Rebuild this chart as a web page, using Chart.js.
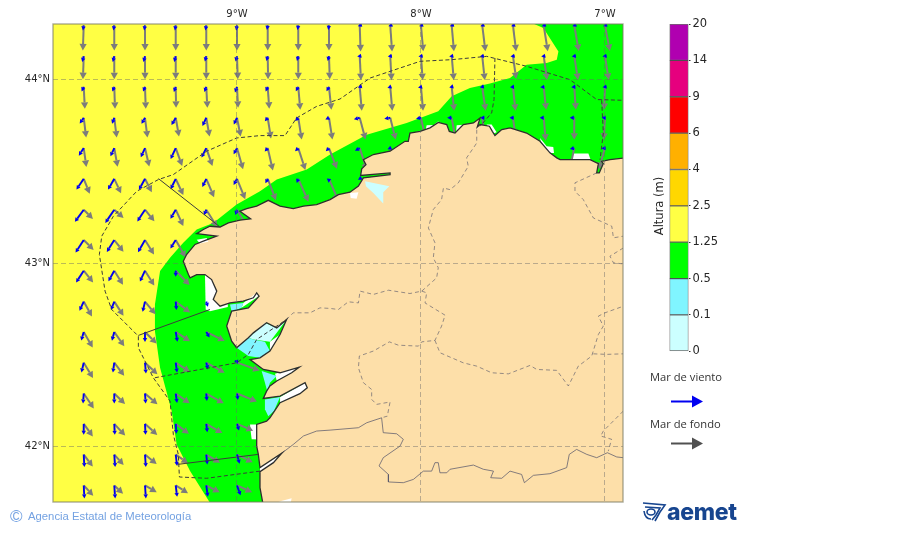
<!DOCTYPE html>
<html lang="es">
<head>
<meta charset="utf-8">
<title>Altura de ola</title>
<script src="https://cdn.jsdelivr.net/npm/chart.js@4/dist/chart.umd.min.js"></script>
<style>
  html, body { margin: 0; padding: 0; background: #fff; }
  #page { position: relative; width: 900px; height: 533px; overflow: hidden; }
  canvas { position: absolute; }
  .txt { position: absolute; white-space: nowrap; }
  .leg { font: 11.2px "Open Sans", sans-serif; color: #333; }
  #copy { left: 28px; top: 510px; font: 11.3px "Liberation Sans", sans-serif; color: #74a2e2; }
  #copyc { left: 10px; top: 507px; font: 17px "Liberation Sans", sans-serif; color: #74a2e2; }
  #aemet { left: 667px; top: 498px; font: 800 23px Inter, sans-serif; color: #17458f; letter-spacing: -0.3px; }
  svg { position: absolute; }
</style>
</head>
<body>
<div id="page">
  <canvas id="map" width="900" height="533" style="left:0;top:0"></canvas>
  <canvas id="bar" width="130" height="370" style="left:640px;top:0"></canvas>
  <div class="txt leg" style="left:650px;top:369px">Mar de viento</div>
  <div class="txt leg" style="left:650px;top:416px">Mar de fondo</div>
  <svg width="900" height="533" style="left:0;top:0">
    <line x1="671" y1="401.5" x2="694" y2="401.5" stroke="#0000f0" stroke-width="2"/>
    <polygon points="703,401.5 692,395.5 692,407.5" fill="#0000f0"/>
    <line x1="671" y1="443.5" x2="694" y2="443.5" stroke="#505050" stroke-width="2"/>
    <polygon points="703,443.5 692,437.5 692,449.5" fill="#505050"/>
    <g fill="none" stroke="#17458f" stroke-width="1.6">
      <path d="M643 503 L665 505 L660 512 L655 521"/>
      <path d="M645 507 L660 508 L656 515 L652 520"/>
      <ellipse cx="651" cy="512" rx="4" ry="3"/>
      <path d="M644 511 Q645 519 651 519"/>
    </g>
  </svg>
  <div class="txt" id="copyc">©</div>
  <div class="txt" id="copy">Agencia Estatal de Meteorología</div>
  <div class="txt" id="aemet">aemet</div>
</div>
<script>
// ejes
const LON_MIN = -10, LON_MAX = -6.902, LAT_MIN = 41.70, LAT_MAX = 44.30;
const lonTicks = [-9, -8, -7];
const lonLabels = ['9°W', '8°W', '7°W'];
const latTicks = [44, 43, 42];
const latLabels = ['44°N', '43°N', '42°N'];

// rejilla de flechas
const gridLons = [-9.833, -9.667, -9.5, -9.333, -9.167, -9, -8.833, -8.667, -8.5, -8.333, -8.167, -8, -7.833, -7.667, -7.5, -7.333, -7.167, -7];
const gridLats = [44.292, 44.125, 43.958, 43.79, 43.625, 43.458, 43.29, 43.125, 42.958, 42.79, 42.625, 42.458, 42.29, 42.125, 41.958, 41.79];

const _ = null;
// mar de fondo: direccion (grados) y altura (m)
const swellDir = [
  [182,180,180,180,180,180,180,180,180,178,176,175,175,173,173,171,170,169],
  [182,180,180,180,180,178,179,180,178,177,177,176,175,174,172,172,171,171],
  [177,178,178,179,177,177,176,175,174,175,175,175,174,172,174,174,176,182],
  [173,173,173,170,170,169,171,171,171,165,166,168,170,172,172,175,180,183],
  [172,170,167,160,161,164,167,162,159,162,165,_,_,_,_,_,192,196],
  [158,155,153,155,157,158,159,156,157,_,_,_,_,_,_,_,_,_],
  [135,132,141,155,148,150,_,_,_,_,_,_,_,_,_,_,_,_],
  [135,142,148,150,_,_,_,_,_,_,_,_,_,_,_,_,_,_],
  [141,148,148,136,_,_,_,_,_,_,_,_,_,_,_,_,_,_],
  [151,147,140,127,_,_,_,_,_,_,_,_,_,_,_,_,_,_],
  [150,145,135,123,116,_,_,_,_,_,_,_,_,_,_,_,_,_],
  [149,143,133,123,119,109,_,_,_,_,_,_,_,_,_,_,_,_],
  [146,134,131,125,119,112,_,_,_,_,_,_,_,_,_,_,_,_],
  [144,137,132,127,120,113,_,_,_,_,_,_,_,_,_,_,_,_],
  [143,138,129,125,121,116,_,_,_,_,_,_,_,_,_,_,_,_],
  [137,133,120,122,117,114,_,_,_,_,_,_,_,_,_,_,_,_],
];
const swellHgt = [
  [2.5,2.5,2.5,2.5,2.5,2.5,2.5,2.5,2.5,2.6,2.6,2.6,2.6,2.6,2.6,2.6,2.6,2.6],
  [2.3,2.3,2.3,2.3,2.3,2.3,2.3,2.3,2.3,2.4,2.4,2.4,2.4,2.4,2.3,2.4,2.4,2.4],
  [2.2,2.2,2.2,2.1,2.1,2.1,2.2,2.3,2.3,2.4,2.4,2.4,2.4,2.4,2.4,2.3,2.3,2.3],
  [2.0,2.0,2.0,1.9,1.9,1.9,2.1,2.2,2.2,2.25,2.25,2.3,2.3,2.3,2.3,2.3,2.2,2.2],
  [1.9,1.9,1.9,1.9,1.9,2.2,2.3,2.3,2.2,2.3,2.3,_,_,_,_,_,2.2,2.2],
  [1.6,1.6,1.5,1.8,2.0,2.2,2.3,2.5,2.4,_,_,_,_,_,_,_,_,_],
  [1.3,1.25,1.5,1.8,2.05,2.2,_,_,_,_,_,_,_,_,_,_,_,_],
  [1.4,1.5,1.7,2.0,_,_,_,_,_,_,_,_,_,_,_,_,_,_],
  [1.5,1.65,1.75,2.0,_,_,_,_,_,_,_,_,_,_,_,_,_,_],
  [1.7,1.7,1.65,1.8,_,_,_,_,_,_,_,_,_,_,_,_,_,_],
  [1.8,1.75,1.65,1.7,2.05,_,_,_,_,_,_,_,_,_,_,_,_,_],
  [1.8,1.65,1.7,1.7,2.1,2.4,_,_,_,_,_,_,_,_,_,_,_,_],
  [1.8,1.5,1.65,1.7,2.0,2.15,_,_,_,_,_,_,_,_,_,_,_,_],
  [1.55,1.6,1.65,1.65,1.85,1.75,_,_,_,_,_,_,_,_,_,_,_,_],
  [1.5,1.4,1.5,1.5,1.6,1.75,_,_,_,_,_,_,_,_,_,_,_,_],
  [1.4,1.2,1.35,1.45,1.5,1.65,_,_,_,_,_,_,_,_,_,_,_,_],
];
// mar de viento
const windDir = [
  [190,190,190,190,190,190,190,190,190,250,250,250,250,250,250,250,250,250],
  [195,195,195,195,195,195,195,195,195,260,260,260,260,260,260,260,260,260],
  [205,203,203,200,200,200,205,210,210,250,250,255,255,255,265,265,265,260],
  [215,200,210,210,205,205,220,225,245,255,260,260,270,270,270,270,270,270],
  [213,205,205,205,207,209,222,225,225,240,245,_,_,_,_,_,257,265],
  [214,210,209,206,206,209,208,200,185,240,_,_,_,_,_,_,_,_],
  [216,214,213,210,202,196,_,_,_,_,_,_,_,_,_,_,_,_],
  [213,212,210,212,_,_,_,_,_,_,_,_,_,_,_,_,_,_],
  [213,209,205,180,_,_,_,_,_,_,_,_,_,_,_,_,_,_],
  [205,201,193,175,163,_,_,_,_,_,_,_,_,_,_,_,_,_],
  [196,195,180,170,150,_,_,_,_,_,_,_,_,_,_,_,_,_],
  [193,188,175,172,166,160,_,_,_,_,_,_,_,_,_,_,_,_],
  [184,180,176,172,175,172,_,_,_,_,_,_,_,_,_,_,_,_],
  [180,177,177,176,173,163,_,_,_,_,_,_,_,_,_,_,_,_],
  [177,176,176,173,174,164,_,_,_,_,_,_,_,_,_,_,_,_],
  [177,176,176,173,172,160,_,_,_,_,_,_,_,_,_,_,_,_],
];
const windHgt = [
  [.5,.5,.5,.5,.5,.5,.45,.45,.45,.2,.2,.2,.2,.2,.2,.2,.2,.2],
  [.6,.6,.6,.6,.55,.55,.5,.5,.5,.25,.25,.25,.25,.25,.25,.25,.25,.25],
  [.5,.5,.5,.55,.55,.6,.5,.5,.5,.2,.3,.3,.25,.25,.3,.35,.3,.25],
  [.7,.65,.7,.85,.9,.75,.45,.45,.4,.6,.6,.5,.45,.2,.35,.4,.45,.35],
  [.9,.9,1.0,1.2,1.05,.7,.45,.45,.45,.55,.3,_,_,_,_,_,.45,.35],
  [1.3,1.25,1.25,1.15,.9,.7,.5,.45,.4,.2,_,_,_,_,_,_,_,_],
  [1.5,1.6,1.4,1.05,.6,.55,_,_,_,_,_,_,_,_,_,_,_,_],
  [1.5,1.4,1.4,1.0,_,_,_,_,_,_,_,_,_,_,_,_,_,_],
  [1.4,1.2,1.2,.6,_,_,_,_,_,_,_,_,_,_,_,_,_,_],
  [1.0,.9,1.05,.85,.55,_,_,_,_,_,_,_,_,_,_,_,_,_],
  [.9,.9,1.0,1.0,.65,_,_,_,_,_,_,_,_,_,_,_,_,_],
  [1.0,1.0,1.1,1.0,.7,.15,_,_,_,_,_,_,_,_,_,_,_,_],
  [1.0,1.0,1.0,.95,.75,.65,_,_,_,_,_,_,_,_,_,_,_,_],
  [1.1,1.1,1.1,1.0,.85,.7,_,_,_,_,_,_,_,_,_,_,_,_],
  [1.25,1.25,1.25,1.15,1.0,.95,_,_,_,_,_,_,_,_,_,_,_,_],
  [1.3,1.3,1.3,1.15,1.15,1.05,_,_,_,_,_,_,_,_,_,_,_,_],
];

// escala de colores
const barLabels = ['0', '0.1', '0.5', '1.25', '2.5', '4', '6', '9', '14', '20'];
const barColors = ['#ccffff', '#80f5ff', '#00ff00', '#ffff44', '#ffd700', '#ffb000', '#ff0000', '#e6007e', '#b000b0'];

// limite de la zona 1.25-2.5 m (verde al este), de N a S
const greenEdge = [[-7.389,44.302],[-7.335,44.278],[-7.253,44.151],[-7.262,44.106],[-7.317,44.088],[-7.426,44.079],[-7.516,44.006],[-7.625,43.976],[-7.734,43.952],[-7.833,43.907],[-7.906,43.825],[-8.078,43.762],[-8.295,43.698],[-8.494,43.590],[-8.621,43.508],[-8.784,43.454],[-8.875,43.390],[-9.002,43.318],[-9.129,43.218],[-9.219,43.182],[-9.292,43.110],[-9.364,43.028],[-9.418,42.956],[-9.446,42.774],[-9.446,42.629],[-9.418,42.430],[-9.355,42.195],[-9.328,42.013],[-9.255,41.868],[-9.147,41.696],[-6.9,41.696],[-6.9,44.302]];

// costa, de E a O y luego al S
const coast = [[-6.900,43.571],[-6.973,43.562],[-7.018,43.553],[-7.009,43.541],[-7.031,43.490],[-7.045,43.490],[-7.036,43.541],[-7.081,43.562],[-7.172,43.562],[-7.244,43.562],[-7.262,43.572],[-7.299,43.599],[-7.353,43.662],[-7.426,43.707],[-7.516,43.735],[-7.561,43.726],[-7.598,43.693],[-7.612,43.716],[-7.628,43.744],[-7.679,43.753],[-7.694,43.740],[-7.679,43.789],[-7.715,43.762],[-7.770,43.753],[-7.815,43.707],[-7.846,43.716],[-7.860,43.753],[-7.906,43.765],[-7.951,43.735],[-8.005,43.716],[-8.060,43.707],[-8.069,43.662],[-8.087,43.662],[-8.168,43.608],[-8.259,43.590],[-8.313,43.562],[-8.299,43.535],[-8.322,43.512],[-8.328,43.476],[-8.168,43.490],[-8.168,43.481],[-8.313,43.463],[-8.340,43.418],[-8.386,43.385],[-8.449,43.372],[-8.494,43.345],[-8.567,43.318],[-8.639,43.309],[-8.694,43.296],[-8.766,43.309],[-8.830,43.341],[-8.893,43.309],[-8.947,43.296],[-8.984,43.282],[-8.926,43.240],[-8.984,43.233],[-9.047,43.218],[-9.092,43.196],[-9.147,43.200],[-9.183,43.182],[-9.219,43.160],[-9.110,43.146],[-9.183,43.119],[-9.228,43.101],[-9.274,43.046],[-9.292,43.010],[-9.264,42.937],[-9.255,42.919],[-9.219,42.937],[-9.174,42.937],[-9.138,42.910],[-9.110,42.847],[-9.129,42.802],[-9.092,42.765],[-9.038,42.783],[-8.966,42.793],[-8.911,42.811],[-8.893,42.838],[-8.880,42.820],[-8.938,42.756],[-9.029,42.738],[-9.056,42.657],[-9.029,42.575],[-9.002,42.539],[-8.938,42.593],[-8.911,42.620],[-8.839,42.675],[-8.784,42.647],[-8.730,42.693],[-8.766,42.611],[-8.821,42.521],[-8.875,42.484],[-8.929,42.475],[-8.857,42.421],[-8.766,42.403],[-8.661,42.434],[-8.703,42.403],[-8.784,42.358],[-8.821,42.331],[-8.839,42.303],[-8.857,42.263],[-8.766,42.276],[-8.630,42.349],[-8.618,42.321],[-8.658,42.289],[-8.766,42.240],[-8.802,42.186],[-8.821,42.158],[-8.839,42.140],[-8.893,42.122],[-8.893,42.004],[-8.884,41.959],[-8.875,41.887],[-8.757,41.965],[-8.802,41.914],[-8.875,41.865],[-8.875,41.778],[-8.860,41.696]];
const landCorners = [[-6.9,41.696],[-6.9,43.571]];

// manchas sin dato bajo la costa
const white1 = [[-9.174,42.937],[-9.05,42.90],[-9.05,42.76],[-9.147,42.738],[-9.170,42.747]];
const white2 = [[-8.929,42.122],[-8.85,42.122],[-8.85,42.04],[-8.920,42.041],[-8.926,42.086]];
const white3 = [[-7.969,43.749],[-7.93,43.75],[-7.906,43.771],[-7.88,43.72],[-7.98,43.70]];
const white4 = [[-7.806,43.749],[-7.752,43.753],[-7.75,43.70],[-7.81,43.70]];
const white5 = [[-7.643,43.753],[-7.616,43.753],[-7.589,43.711],[-7.625,43.698]];
const white6 = [[-7.353,43.680],[-7.317,43.635],[-7.281,43.631],[-7.277,43.599],[-7.335,43.599]];
const white7 = [[-7.172,43.595],[-7.090,43.595],[-7.078,43.562],[-7.09,43.53],[-7.18,43.53]];
const whiteMino = [[-8.875,41.887],[-8.757,41.965],[-8.802,41.914],[-8.875,41.865]];
const whiteUnder = [white1, white2, white3, white4, white5, white6, white7, whiteMino];

// rias, encima de la tierra
const whiteCedeira = [[-8.386,43.381],[-8.340,43.385],[-8.350,43.349],[-8.382,43.354]];
const whiteCorme = [[-9.219,43.127],[-9.165,43.136],[-9.156,43.115],[-9.201,43.106]];
const whiteSouth = [[-8.775,41.702],[-8.703,41.720],[-8.708,41.696]];
const whiteMuros = [[-8.966,42.783],[-8.893,42.838],[-8.880,42.820],[-8.975,42.756]];
const whitePontevedra = [[-8.793,42.398],[-8.661,42.434],[-8.703,42.403],[-8.784,42.358]];
const whiteVigo = [[-8.766,42.271],[-8.630,42.349],[-8.618,42.321],[-8.658,42.289],[-8.766,42.240]];
const whiteArousa = [[-8.821,42.571],[-8.766,42.611],[-8.821,42.521]];
const riaAres = [[-8.304,43.445],[-8.172,43.418],[-8.205,43.385],[-8.205,43.323],[-8.259,43.381],[-8.299,43.418]];
const riaArousaPale = [[-8.938,42.593],[-8.847,42.675],[-8.784,42.647],[-8.733,42.689],[-8.821,42.571],[-8.911,42.584]];
const riaMuros = [[-9.038,42.774],[-8.966,42.783],[-8.975,42.756],[-9.029,42.735]];
const riaArousa = [[-9.002,42.539],[-8.938,42.593],[-8.911,42.584],[-8.848,42.571],[-8.821,42.521],[-8.875,42.484],[-8.938,42.494]];
const riaPontevedra = [[-8.866,42.412],[-8.784,42.385],[-8.821,42.349],[-8.835,42.300],[-8.848,42.349]];
const riaVigo = [[-8.848,42.258],[-8.766,42.271],[-8.799,42.195],[-8.830,42.167],[-8.848,42.204]];

// limites de provincias
const provA = [[-7.697,43.725],[-7.697,43.653],[-7.715,43.626],[-7.752,43.572],[-7.743,43.526],[-7.797,43.436],[-7.842,43.399],[-7.878,43.408],[-7.888,43.345],[-7.933,43.291],[-7.960,43.191],[-7.924,43.110],[-7.933,43.028],[-7.906,42.974],[-7.915,42.919],[-7.996,42.847],[-8.060,42.834],[-8.177,42.852],[-8.259,42.829],[-8.331,42.847],[-8.340,42.783],[-8.395,42.789],[-8.449,42.747],[-8.494,42.753],[-8.549,42.756],[-8.603,42.729],[-8.694,42.729],[-8.730,42.693]];
const provB = [[-7.996,42.847],[-7.969,42.838],[-7.978,42.783],[-7.869,42.716],[-7.888,42.657],[-7.924,42.579],[-7.996,42.571],[-8.014,42.548],[-8.123,42.553],[-8.172,42.571],[-8.259,42.521],[-8.335,42.494],[-8.340,42.430],[-8.313,42.349],[-8.268,42.312],[-8.268,42.258],[-8.241,42.231],[-8.168,42.244],[-8.183,42.167],[-8.214,42.158]];
const provC = [[-7.924,42.579],[-7.897,42.512],[-7.770,42.457],[-7.697,42.439],[-7.616,42.403],[-7.525,42.397],[-7.407,42.443],[-7.371,42.421],[-7.262,42.416],[-7.199,42.331],[-7.145,42.439],[-7.072,42.494],[-7.036,42.611],[-7.009,42.657],[-7.036,42.711],[-7.000,42.729],[-6.900,42.765]];
const provD = [[-7.063,42.506],[-6.991,42.503],[-6.900,42.506]];
const provE = [[-6.900,42.195],[-7.009,42.086],[-7.023,42.059],[-6.964,42.041],[-6.982,41.977]];
const provF = [[-7.045,43.490],[-7.163,43.436],[-7.163,43.390],[-7.118,43.345],[-7.063,43.245],[-6.963,43.200],[-6.954,43.137],[-6.900,43.146]];
const provG = [[-6.900,43.082],[-6.973,43.037],[-6.954,43.001],[-6.900,42.995]];
// frontera con Portugal
const border = [[-8.757,41.965],[-8.694,42.013],[-8.639,42.059],[-8.567,42.086],[-8.494,42.091],[-8.340,42.104],[-8.295,42.131],[-8.214,42.158],[-8.205,42.077],[-8.132,42.071],[-8.096,42.041],[-8.114,42.004],[-8.205,41.941],[-8.228,41.896],[-8.177,41.850],[-8.177,41.809],[-8.096,41.805],[-8.041,41.823],[-7.987,41.868],[-7.942,41.868],[-7.924,41.914],[-7.906,41.914],[-7.897,41.859],[-7.860,41.859],[-7.842,41.878],[-7.715,41.901],[-7.661,41.878],[-7.606,41.868],[-7.621,41.832],[-7.561,41.829],[-7.516,41.868],[-7.453,41.850],[-7.438,41.805],[-7.389,41.845],[-7.299,41.854],[-7.208,41.887],[-7.194,41.959],[-7.154,41.986],[-7.099,41.959],[-7.045,41.941],[-6.987,41.968],[-6.936,41.945],[-6.900,41.941]];

// zonas maritimas
const zoneOuter = [[-8.875,41.868],[-9.165,41.829],[-9.313,41.836],[-9.319,41.959],[-9.346,42.068],[-9.364,42.249],[-9.455,42.376],[-9.536,42.539],[-9.536,42.602],[-9.681,42.747],[-9.717,42.847],[-9.748,43.046],[-9.735,43.146],[-9.672,43.254],[-9.545,43.390],[-9.427,43.454],[-9.346,43.481],[-9.165,43.608],[-9.002,43.680],[-8.875,43.693],[-8.739,43.693],[-8.676,43.789],[-8.567,43.852],[-8.440,43.892],[-8.277,44.006],[-8.005,44.097],[-7.833,44.106],[-7.643,44.124],[-7.426,44.070],[-7.190,43.997],[-7.045,43.889],[-6.900,43.885]];
const zoneBares = [[-7.598,44.115],[-7.603,43.889],[-7.616,43.816],[-7.679,43.744]];
const zoneEo = [[-7.018,43.885],[-7.009,43.707],[-7.027,43.562]];
const zoneArousa = [[-9.446,42.376],[-9.002,42.457],[-8.938,42.503],[-8.893,42.584],[-8.730,42.693]];
const lineFisterra = [[-9.427,43.459],[-9.092,43.196]];
const lineMuros = [[-9.536,42.606],[-9.147,42.747]];
const lineVigo = [[-9.319,41.905],[-8.884,41.959]];

const toXY = (pts) => pts.map((p) => ({ x: p[0], y: p[1] }));

function area(pts, color) {
    return { data: toXY(pts), polyFill: color, showLine: false, pointRadius: 0 };
}

function line(pts, color, width, dash) {
    return { data: toXY(pts), showLine: true, borderColor: color, borderWidth: width, borderDash: dash || [], pointRadius: 0, tension: 0, fill: false };
}

function arrows(dirs, hgts, style) {
    const data = [];
    gridLats.forEach((lat, r) => {
        gridLons.forEach((lon, c) => {
            if (dirs[r][c] !== null) data.push({ x: lon, y: lat, dir: dirs[r][c], hgt: hgts[r][c] });
        });
    });
    return { data, arrowStyle: style, showLine: false, pointRadius: 0 };
}

const PROV = 'rgba(85,85,105,0.62)';
const ZONE = '#3c3c3c';

// en orden de pintado, de abajo a arriba
const layers = [
    area(greenEdge, barColors[2]),
    ...whiteUnder.map((w) => area(w, '#ffffff')),
    arrows(swellDir, swellHgt, { color: '#7c7c7c', width: 2, headLen: 6.5, headHalf: 3.6 }),
    arrows(windDir, windHgt, { color: '#0000f0', width: 1.9, headLen: 4, headHalf: 2.2 }),
    area(coast.concat(landCorners), '#fddfa9'),
    area(whiteCedeira, '#ffffff'), area(whiteCorme, '#ffffff'), area(whiteSouth, '#ffffff'), area(whiteMuros, '#ffffff'),
    area(whitePontevedra, '#ffffff'), area(whiteVigo, '#ffffff'), area(whiteArousa, '#ffffff'),
    area(riaAres, barColors[0]), area(riaArousaPale, barColors[0]),
    area(riaMuros, barColors[1]), area(riaArousa, barColors[1]),
    area(riaPontevedra, barColors[1]), area(riaVigo, barColors[1]),
    line(provA, PROV, 1, [4, 3]), line(provB, PROV, 1, [4, 3]), line(provC, PROV, 1, [4, 3]),
    line(provD, PROV, 1, [4, 3]), line(provE, PROV, 1, [4, 3]), line(provF, PROV, 1, [4, 3]), line(provG, PROV, 1, [4, 3]),
    line(border, 'rgba(85,85,105,0.72)', 1),
    line(coast, '#2e2e2e', 1.3),
    line(zoneOuter, ZONE, 1, [4, 2.5]), line(zoneBares, ZONE, 1, [4, 2.5]), line(zoneEo, ZONE, 1, [4, 2.5]), line(zoneArousa, ZONE, 1, [4, 2.5]),
    line(lineFisterra, ZONE, 1), line(lineMuros, ZONE, 1), line(lineVigo, ZONE, 1),
];
layers.forEach((d, i) => { d.order = layers.length - i; });

const PX_PER_METRE = 10;

function drawArrow(ctx, x, y, dir, hgt, st) {
    const a = dir * Math.PI / 180;
    const ux = Math.sin(a), uy = -Math.cos(a);
    const len = hgt * PX_PER_METRE;
    const tx = x + ux * len, ty = y + uy * len;
    const bx = tx - ux * st.headLen, by = ty - uy * st.headLen;
    ctx.strokeStyle = st.color;
    ctx.fillStyle = st.color;
    ctx.lineWidth = st.width;
    ctx.beginPath();
    ctx.moveTo(x, y);
    ctx.lineTo(bx, by);
    ctx.stroke();
    ctx.beginPath();
    ctx.moveTo(tx, ty);
    ctx.lineTo(bx - uy * st.headHalf, by + ux * st.headHalf);
    ctx.lineTo(bx + uy * st.headHalf, by - ux * st.headHalf);
    ctx.closePath();
    ctx.fill();
}

const mapLayers = {
    id: 'mapLayers',
    beforeDraw(chart) {
        const { ctx, chartArea: a } = chart;
        ctx.save();
        ctx.fillStyle = barColors[3];
        ctx.fillRect(a.left, a.top, a.width, a.height);
        ctx.restore();
    },
    beforeDatasetDraw(chart, args) {
        const ds = chart.data.datasets[args.index];
        const { ctx, chartArea: a } = chart;
        if (!ds.polyFill && !ds.arrowStyle) return;
        ctx.save();
        ctx.beginPath();
        ctx.rect(a.left, a.top, a.width, a.height);
        ctx.clip();
        if (ds.polyFill) {
            ctx.fillStyle = ds.polyFill;
            ctx.beginPath();
            args.meta.data.forEach((p, i) => (i ? ctx.lineTo(p.x, p.y) : ctx.moveTo(p.x, p.y)));
            ctx.closePath();
            ctx.fill();
        } else {
            args.meta.data.forEach((p, i) => {
                const v = ds.data[i];
                drawArrow(ctx, p.x, p.y, v.dir, v.hgt, ds.arrowStyle);
            });
        }
        ctx.restore();
    },
    afterDraw(chart) {
        const { ctx, chartArea: a } = chart;
        ctx.save();
        ctx.strokeStyle = 'rgba(125,125,100,0.65)';
        ctx.lineWidth = 1.4;
        ctx.strokeRect(a.left, a.top, a.width, a.height);
        ctx.restore();
    },
};

const GRID = { color: 'rgba(105,105,105,0.45)', lineWidth: 1, z: 1, tickLength: 0, drawTicks: false };
const TICKS = { color: '#262626', font: { family: 'DejaVu Sans', size: 10 }, autoSkip: false, maxRotation: 0 };

new Chart(document.getElementById('map'), {
    type: 'scatter',
    data: { datasets: layers },
    plugins: [mapLayers],
    options: {
        responsive: false,
        animation: false,
        events: [],
        layout: { padding: { left: 0, top: 0, right: 277, bottom: 31 } },
        plugins: { legend: { display: false }, tooltip: { enabled: false } },
        scales: {
            x: {
                type: 'linear', position: 'top', min: LON_MIN, max: LON_MAX,
                border: { display: false, dash: [5, 3] },
                grid: GRID,
                ticks: { ...TICKS, padding: 4, callback: (v) => lonLabels[lonTicks.indexOf(v)] },
                afterBuildTicks: (s) => { s.ticks = lonTicks.map((value) => ({ value })); },
                afterFit: (s) => { s.height = 24; },
            },
            y: {
                type: 'linear', position: 'left', min: LAT_MIN, max: LAT_MAX,
                border: { display: false, dash: [5, 3] },
                grid: GRID,
                ticks: { ...TICKS, padding: 3, callback: (v) => latLabels[latTicks.indexOf(v)] },
                afterBuildTicks: (s) => { s.ticks = latTicks.map((value) => ({ value })); },
                afterFit: (s) => { s.width = 53; },
            },
        },
    },
});

// barra de colores
const barTitle = {
    id: 'barTitle',
    afterDraw(chart) {
        const { ctx } = chart;
        ctx.save();
        ctx.translate(20, 206);
        ctx.rotate(-Math.PI / 2);
        ctx.font = '11.5px "DejaVu Sans"';
        ctx.fillStyle = '#262626';
        ctx.textAlign = 'center';
        ctx.textBaseline = 'middle';
        ctx.fillText('Altura (m)', 0, 0);
        ctx.restore();
    },
};

new Chart(document.getElementById('bar'), {
    type: 'bar',
    data: {
        labels: ['Altura'],
        datasets: barColors.map((c, i) => ({
            data: [[i, i + 1]],
            backgroundColor: c,
            borderColor: 'rgba(30,30,30,0.65)',
            borderWidth: 1,
            borderSkipped: false,
            barPercentage: 1,
            categoryPercentage: 1,
            grouped: false,
        })),
    },
    plugins: [barTitle],
    options: {
        responsive: false,
        animation: false,
        events: [],
        layout: { padding: { left: 29.5, top: 24, right: 31.5, bottom: 18.7 } },
        plugins: { legend: { display: false }, tooltip: { enabled: false } },
        scales: {
            x: { display: false },
            y: {
                position: 'right', min: 0, max: 9,
                border: { display: false },
                grid: { drawOnChartArea: false, tickLength: 2, color: '#333' },
                ticks: {
                    stepSize: 1, padding: 2, color: '#262626',
                    font: { family: 'DejaVu Sans', size: 11.5 },
                    callback: (v) => barLabels[v],
                },
                afterFit: (s) => { s.width = 50; },
            },
        },
    },
});
</script>
</body>
</html>
